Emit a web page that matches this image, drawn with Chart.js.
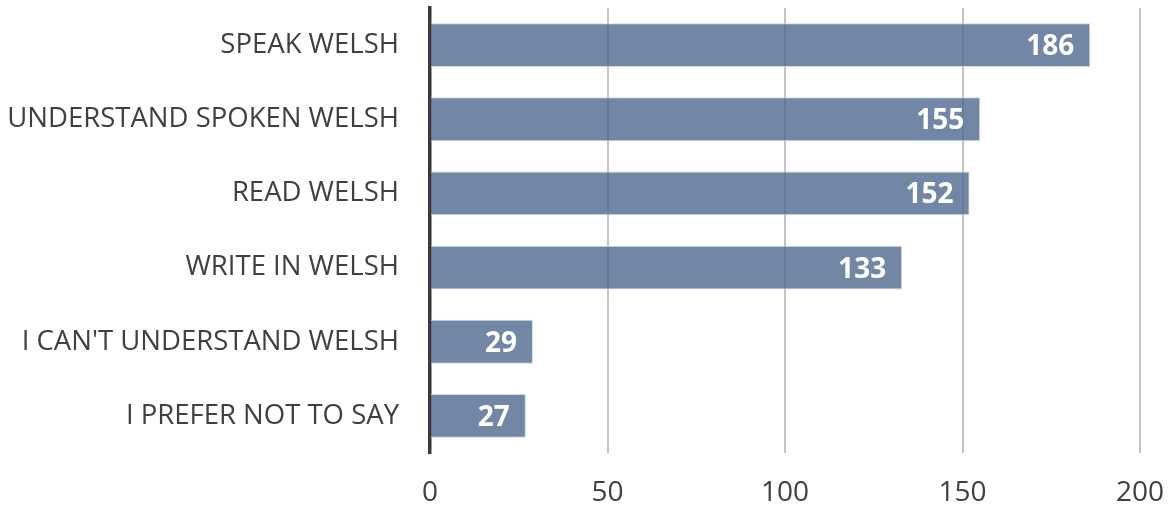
<!DOCTYPE html>
<html><head><meta charset="utf-8">
<script src="https://cdn.jsdelivr.net/npm/chart.js@4"></script>
<style>html,body{margin:0;padding:0;background:#fff}#w{width:1172px;height:514px}</style>
</head><body><div id="w"><canvas id="c"></canvas></div>
<script>
const categories = ["SPEAK WELSH","UNDERSTAND SPOKEN WELSH","READ WELSH","WRITE IN WELSH","I CAN'T UNDERSTAND WELSH","I PREFER NOT TO SAY"];
const values = [186,155,152,133,29,27];
const xTicks = [0,50,100,150,200];

const labelPlugin = {
  id:'barLabels',
  afterDatasetsDraw(chart){
    const ctx = chart.ctx;
    const meta = chart.getDatasetMeta(0);
    ctx.save();
    ctx.fillStyle = '#ffffff';
    ctx.font = 'bold 28px "Open Sans", sans-serif';
    ctx.textAlign = 'right';
    ctx.textBaseline = 'middle';
    meta.data.forEach((bar,i)=>{
      ctx.fillText(String(values[i]), bar.x - 16, bar.y + 2);
    });
    ctx.restore();
  }
};

new Chart(document.getElementById('c'), {
  type:'bar',
  data:{labels:categories, datasets:[{data:values,
    backgroundColor:'rgba(78,105,143,0.8)',
    borderColor:'rgba(205,214,228,0.9)', borderWidth:1, borderSkipped:'start',
    barPercentage:1, categoryPercentage:0.59}]},
  options:{
    indexAxis:'y', responsive:true, maintainAspectRatio:false, animation:false,
    layout:{padding:{top:8,right:32,left:0,bottom:0}},
    plugins:{legend:{display:false}, tooltip:{enabled:false}},
    scales:{
      x:{min:0,max:200,
        afterBuildTicks(s){ s.ticks = xTicks.map(v=>({value:v})); },
        afterFit(s){ s.height = 61; s.paddingLeft = 0; s.paddingRight = 0; },
        border:{display:false},
        grid:{color:(c)=> c.tick && c.tick.value===0 ? 'rgba(0,0,0,0)' : '#c4c4c4', lineWidth:2, drawTicks:false},
        ticks:{color:'#404040', font:{family:'"Open Sans", sans-serif', size:28}, padding:23}
      },
      y:{
        afterFit(s){ s.width = 430; s.paddingTop = 0; s.paddingBottom = 0; },
        border:{display:true,color:'#3a3a3a',width:3.5},
        grid:{display:false, drawTicks:false},
        ticks:{color:'#404040', font:{family:'"Open Sans", sans-serif', size:27.5}, padding:31}
      }
    }
  },
  plugins:[labelPlugin]
});
</script></body></html>
